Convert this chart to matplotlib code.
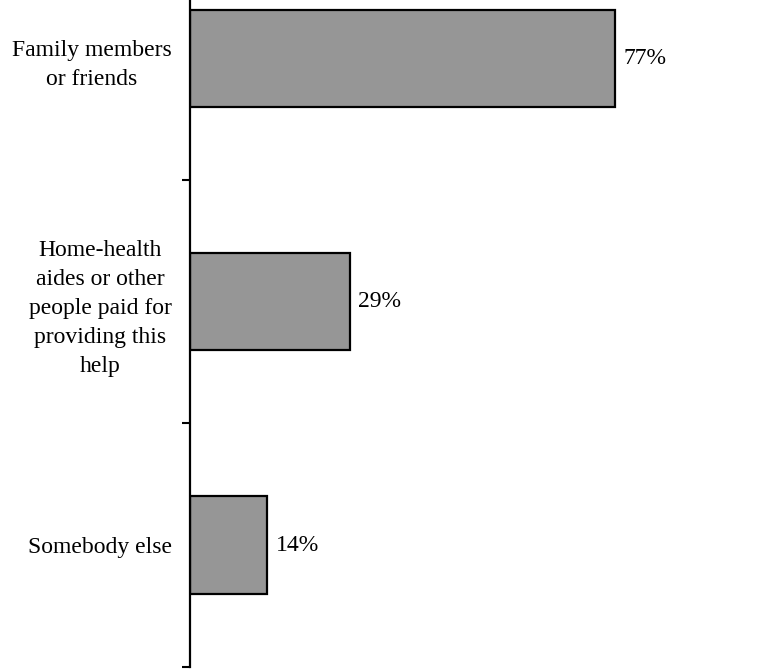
import matplotlib.pyplot as plt
from matplotlib.ticker import FixedLocator

categories = [
    "Family members\nor friends",
    "Home-health\naides or other\npeople paid for\nproviding this\nhelp",
    "Somebody else",
]
values = [77, 29, 14]

plt.rcParams["font.family"] = ["Liberation Serif", "DejaVu Serif"]

fig = plt.figure(figsize=(7.72, 6.69), dpi=100)
ax = fig.add_axes([190 / 772, 2.25 / 669, 552 / 772, 730 / 669])

pos = list(range(len(categories)))
ax.barh(pos, values, height=0.4, color="#969696", edgecolor="black", linewidth=1.6)

for y, v in zip(pos, values):
    ax.annotate(f"{v}%", (v, y), xytext=(6, 0), textcoords="offset points",
                va="center", ha="left", fontsize=17)

ax.set_xlim(0, 100)
ax.set_ylim(2.5, -0.5)

ax.set_yticks(pos)
ax.set_yticklabels(categories, fontsize=17, multialignment="center", linespacing=1.5)
ax.tick_params(axis="y", which="major", length=0, pad=13)
ax.yaxis.set_minor_locator(FixedLocator([0.5, 1.5, 2.5]))
ax.tick_params(axis="y", which="minor", length=6, width=1.5, direction="out")

ax.set_xticks([])
for side in ["top", "right", "bottom"]:
    ax.spines[side].set_visible(False)
ax.spines["left"].set_linewidth(1.6)

fig.savefig("out.png", dpi=100)
